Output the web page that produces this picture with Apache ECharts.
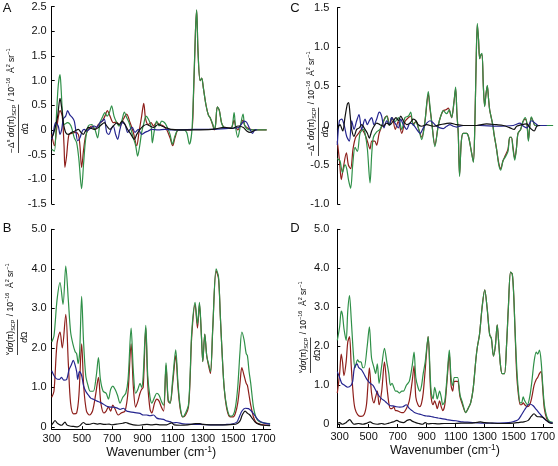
<!DOCTYPE html>
<html>
<head>
<meta charset="utf-8">
<script src="https://cdn.jsdelivr.net/npm/echarts@6/dist/echarts.min.js"></script>
<style>
html,body{margin:0;padding:0;background:#fff;}
#c{width:558px;height:466px;}
</style>
</head>
<body>
<div id="c"></div>
<script>
// ---------------- DATA (wavenumber cm-1, value) ----------------
const xTicks = [300, 500, 700, 900, 1100, 1300, 1500, 1700];
const yTicksA = [-1.5, -1.0, -0.5, 0, 0.5, 1.0, 1.5, 2.0, 2.5];
const yTicksC = [-1.0, -0.5, 0, 0.5, 1.0, 1.5];
const yTicksBD = [0, 1, 2, 3, 4, 5];

const aGreen = [[278,-0.39],[296,-0.43],[311,0.35],[322,0.9],[334,1.12],[342,0.8],[349,0.42],[363,0.11],[385,0.15],[408,0.08],[430,-0.16],[446,-0.26],[461,-0.6],[479,-1.19],[493,-0.66],[506,-0.19],[524,0.08],[547,0.11],[569,0.01],[587,-0.16],[603,0.15],[618,0.25],[636,0.35],[650,0.28],[666,0.35],[681,0.49],[697,0.28],[715,0.15],[731,0.08],[749,0.18],[767,0.36],[782,0.25],[798,0.15],[811,0.01],[827,-0.16],[843,-0.32],[856,-0.53],[870,-0.32],[883,-0.05],[899,0.15],[912,0.28],[928,0.22],[946,0.08],[955,-0.26],[968,-0.02],[984,0.18],[1000,0.08],[1018,0.18],[1036,0.15],[1051,0.08],[1074,-0.09],[1090,-0.29],[1107,-0.12],[1130,0.0],[1163,0.0],[1186,-0.05],[1204,-0.29],[1220,-0.05],[1231,0.69],[1245,2.0],[1253,2.43],[1262,1.6],[1276,1.0],[1287,1.05],[1298,0.85],[1316,0.5],[1332,0.3],[1343,0.25],[1361,0.12],[1372,0.02],[1380,0.1],[1392,0.47],[1405,0.4],[1420,0.15],[1435,0.05],[1450,0.03],[1470,0.03],[1490,0.05],[1505,0.35],[1515,0.05],[1530,-0.15],[1545,0.05],[1565,0.32],[1575,0.1],[1590,0.03],[1610,0.0],[1640,0.0],[1724,0.0]];
const aRed = [[278,-0.09],[296,-0.32],[311,0.01],[322,0.25],[334,0.39],[349,0.28],[361,-0.32],[367,-0.76],[378,-0.53],[394,-0.09],[412,-0.07],[435,-0.05],[457,-0.09],[468,-0.32],[479,-0.76],[493,-0.39],[506,-0.12],[524,0.01],[547,0.08],[569,0.01],[592,0.11],[618,0.18],[636,0.28],[652,0.39],[670,0.28],[692,0.15],[715,0.16],[737,0.08],[760,0.22],[782,0.32],[805,0.15],[827,-0.05],[850,-0.32],[865,-0.05],[883,0.28],[897,0.54],[910,0.22],[928,0.11],[946,0.15],[962,0.08],[984,0.15],[1007,0.11],[1029,0.08],[1051,0.01],[1074,-0.16],[1092,-0.32],[1107,-0.16],[1130,0.0],[1163,0.0],[1200,0.0],[1220,0.0],[1231,0.6],[1245,2.0],[1253,2.42],[1262,1.6],[1276,1.0],[1287,1.05],[1298,0.85],[1316,0.5],[1332,0.3],[1343,0.25],[1361,0.1],[1372,0.0],[1380,0.1],[1392,0.47],[1405,0.4],[1420,0.15],[1435,0.06],[1450,0.04],[1470,0.04],[1490,0.06],[1505,0.2],[1515,0.08],[1530,0.0],[1545,0.08],[1565,0.2],[1575,0.1],[1590,0.05],[1610,0.02],[1640,0.0],[1724,0.0]];
const aBlue = [[278,-0.19],[289,-0.05],[304,0.15],[322,0.08],[334,-0.09],[345,0.01],[356,0.22],[372,0.28],[385,0.39],[401,0.3],[417,0.25],[430,0.18],[439,0.01],[453,-0.22],[468,-0.16],[484,-0.02],[497,0.01],[513,-0.02],[529,0.01],[547,0.05],[565,0.08],[580,0.05],[603,0.15],[618,0.18],[632,0.22],[648,-0.05],[663,-0.09],[677,0.01],[692,0.08],[708,-0.09],[722,-0.19],[737,0.01],[753,0.15],[771,0.11],[789,-0.05],[805,0.01],[820,0.05],[838,-0.05],[861,0.01],[883,-0.09],[906,-0.05],[928,-0.02],[950,0.01],[995,0.0],[1040,0.01],[1085,0.0],[1130,0.0],[1242,0.01],[1354,0.01],[1466,0.03],[1534,0.05],[1574,0.18],[1590,0.15],[1612,0.01],[1628,-0.07],[1646,0.0],[1660,0.0]];
const aBlack = [[278,-0.16],[289,-0.09],[304,0.08],[318,0.28],[334,0.64],[345,0.45],[356,0.15],[372,-0.05],[390,-0.09],[412,-0.05],[435,-0.02],[457,0.01],[475,-0.05],[491,-0.09],[506,-0.02],[524,0.05],[547,0.03],[569,0.01],[592,0.05],[614,0.11],[632,0.15],[648,0.08],[670,0.01],[692,0.08],[715,0.14],[731,0.11],[753,0.18],[771,0.11],[789,0.01],[811,-0.09],[834,-0.19],[850,-0.09],[872,0.01],[894,0.08],[917,0.11],[939,0.08],[962,0.05],[995,0.11],[1018,0.08],[1040,0.05],[1063,0.03],[1085,0.01],[1130,0.0],[1242,0.0],[1354,0.01],[1444,0.05],[1489,0.03],[1534,0.08],[1567,0.05],[1590,-0.02],[1612,-0.05],[1635,-0.02],[1650,0.0]];

const bGreen = [[300,2.15],[315,2.3],[335,3.2],[355,3.65],[375,3.1],[393,4.07],[410,3.2],[425,2.4],[440,2.1],[455,1.9],[465,1.85],[475,1.6],[485,1.9],[498,3.3],[510,2.2],[525,1.3],[540,1.05],[555,0.9],[575,0.9],[595,1.3],[609,1.75],[622,1.2],[640,0.9],[660,0.85],[675,0.7],[690,0.95],[704,1.03],[719,0.95],[735,0.8],[752,0.6],[770,0.75],[790,0.85],[805,1.2],[825,2.5],[840,1.4],[855,0.85],[870,0.95],[884,1.1],[895,1.0],[905,1.3],[922,2.57],[935,1.3],[950,0.75],[962,0.6],[980,0.75],[995,0.85],[1010,0.8],[1025,0.65],[1040,0.55],[1056,1.62],[1070,0.7],[1083,0.6],[1100,1.2],[1120,1.95],[1135,1.1],[1150,0.5],[1167,0.25],[1185,0.35],[1204,0.55],[1215,1.3],[1226,2.4],[1248,3.15],[1264,2.6],[1277,3.15],[1290,2.3],[1299,1.65],[1312,2.35],[1325,1.8],[1340,1.55],[1350,1.4],[1365,2.5],[1387,4.0],[1403,3.8],[1415,2.8],[1425,2.0],[1440,1.0],[1458,0.5],[1480,0.27],[1500,0.3],[1515,0.5],[1530,1.0],[1545,1.9],[1557,2.4],[1572,2.2],[1586,1.85],[1594,1.8],[1605,1.4],[1616,1.1],[1634,0.5],[1650,0.25],[1667,0.15],[1700,0.1],[1744,0.08]];
const bRed = [[300,0.75],[315,0.9],[335,2.1],[355,2.4],[370,2.0],[393,2.85],[410,1.6],[425,0.6],[445,0.33],[465,0.35],[480,0.8],[498,2.1],[512,1.0],[530,0.4],[550,0.3],[570,0.4],[590,0.8],[609,1.25],[625,0.6],[645,0.35],[660,0.4],[675,0.5],[690,0.4],[704,0.55],[719,0.45],[740,0.3],[760,0.35],[785,0.4],[805,0.9],[825,2.1],[840,1.0],[855,0.5],[870,0.65],[884,0.85],[895,0.95],[905,1.0],[922,2.5],[935,1.1],[950,0.45],[962,0.35],[980,0.6],[995,0.7],[1010,0.65],[1025,0.5],[1040,0.4],[1056,1.55],[1070,0.65],[1083,0.6],[1100,1.1],[1120,1.8],[1135,1.0],[1150,0.45],[1167,0.25],[1185,0.3],[1204,0.5],[1215,1.2],[1226,2.3],[1248,3.1],[1264,2.5],[1277,3.1],[1290,2.3],[1299,1.65],[1312,2.35],[1325,1.8],[1340,1.5],[1350,1.35],[1365,2.5],[1387,3.95],[1403,3.75],[1415,2.8],[1425,2.0],[1440,1.0],[1458,0.45],[1480,0.25],[1500,0.25],[1515,0.35],[1530,0.6],[1545,1.1],[1557,1.5],[1572,1.3],[1586,1.1],[1594,1.05],[1605,0.8],[1616,0.55],[1634,0.25],[1650,0.12],[1667,0.08],[1700,0.05],[1744,0.04]];
const bBlue = [[300,1.42],[315,1.3],[330,1.22],[350,1.2],[365,1.25],[380,1.18],[399,1.2],[415,1.45],[428,1.55],[443,1.68],[452,1.6],[465,1.4],[472,1.2],[483,1.4],[498,1.3],[510,1.05],[525,0.9],[543,0.8],[560,0.72],[576,0.7],[600,0.65],[620,0.62],[640,0.58],[664,0.52],[690,0.5],[708,0.5],[730,0.48],[752,0.44],[774,0.47],[795,0.4],[818,0.38],[850,0.36],[884,0.34],[905,0.3],[928,0.3],[950,0.28],[973,0.3],[995,0.22],[1017,0.2],[1039,0.19],[1060,0.15],[1083,0.13],[1105,0.1],[1127,0.11],[1160,0.08],[1193,0.07],[1240,0.06],[1281,0.06],[1350,0.05],[1420,0.05],[1458,0.06],[1490,0.07],[1524,0.12],[1540,0.25],[1558,0.4],[1579,0.47],[1601,0.46],[1620,0.4],[1640,0.3],[1667,0.17],[1700,0.1],[1744,0.07]];
const bBlack = [[300,0.05],[310,0.1],[322,0.16],[335,0.1],[350,0.06],[365,0.04],[388,0.12],[400,0.05],[420,0.02],[445,0.01],[470,0.0],[490,0.04],[509,0.11],[530,0.06],[555,0.07],[575,0.09],[600,0.07],[620,0.08],[650,0.06],[680,0.07],[700,0.05],[730,0.07],[770,0.09],[790,0.11],[810,0.08],[840,0.05],[870,0.04],[900,0.05],[930,0.06],[960,0.05],[990,0.06],[1020,0.05],[1060,0.05],[1093,0.1],[1110,0.05],[1150,0.04],[1200,0.05],[1250,0.08],[1281,0.08],[1300,0.06],[1350,0.05],[1400,0.05],[1458,0.05],[1500,0.06],[1524,0.08],[1545,0.15],[1560,0.3],[1579,0.4],[1595,0.34],[1610,0.3],[1625,0.22],[1645,0.12],[1667,0.07],[1700,0.04],[1744,0.03]];

const cGreen = [[285,-0.42],[303,-0.45],[320,-0.6],[337,-0.5],[349,-0.55],[362,-0.7],[376,-0.8],[390,-0.5],[406,-0.28],[422,-0.33],[440,-0.1],[462,-0.05],[474,-0.1],[490,-0.3],[508,-0.73],[520,-0.35],[531,-0.15],[553,-0.08],[576,-0.05],[599,0.05],[621,0.12],[640,0.0],[655,0.1],[678,0.05],[701,0.1],[724,-0.05],[746,0.1],[770,0.12],[785,0.17],[803,0.0],[821,0.05],[840,-0.05],[860,-0.18],[882,0.05],[905,0.43],[916,0.25],[928,0.05],[950,-0.27],[973,0.0],[990,0.12],[1007,0.19],[1030,0.15],[1048,0.2],[1064,0.1],[1080,0.3],[1091,0.49],[1100,0.15],[1109,-0.1],[1118,-0.65],[1130,-0.2],[1143,-0.1],[1166,-0.1],[1180,-0.15],[1200,-0.35],[1212,-0.47],[1222,0.0],[1232,0.9],[1239,1.3],[1247,1.1],[1255,0.85],[1263,0.9],[1271,0.92],[1280,0.5],[1289,0.24],[1298,0.4],[1307,0.51],[1315,0.35],[1323,0.2],[1334,0.1],[1345,0.0],[1352,-0.1],[1370,-0.3],[1385,-0.5],[1398,-0.57],[1414,-0.45],[1430,-0.4],[1448,-0.33],[1460,-0.15],[1471,-0.15],[1482,-0.3],[1494,-0.44],[1505,-0.3],[1516,-0.1],[1534,-0.05],[1550,0.05],[1566,0.1],[1577,0.02],[1587,-0.2],[1597,0.0],[1607,0.11],[1620,0.05],[1632,0.0],[1675,0.0],[1755,0.0]];
const cRed = [[285,-0.2],[300,-0.45],[312,-0.69],[325,-0.55],[347,-0.35],[360,-0.5],[376,-0.55],[392,-0.3],[410,-0.15],[430,-0.1],[450,-0.05],[470,-0.1],[490,-0.2],[508,-0.3],[520,-0.2],[540,-0.2],[553,-0.25],[570,-0.1],[590,0.0],[610,0.1],[625,0.12],[640,0.0],[660,0.1],[680,-0.05],[700,0.05],[724,-0.1],[746,0.05],[770,0.1],[785,0.12],[803,0.02],[821,0.05],[840,-0.05],[860,-0.15],[882,0.05],[905,0.4],[916,0.22],[928,0.05],[950,-0.25],[973,0.0],[990,0.12],[1007,0.19],[1025,0.2],[1041,0.22],[1055,0.15],[1064,0.1],[1080,0.3],[1091,0.47],[1100,0.15],[1109,-0.1],[1118,-0.63],[1130,-0.2],[1143,-0.1],[1166,-0.1],[1180,-0.15],[1200,-0.35],[1212,-0.46],[1222,0.0],[1232,0.9],[1239,1.28],[1247,1.1],[1255,0.85],[1263,0.9],[1271,0.9],[1280,0.5],[1289,0.25],[1298,0.4],[1307,0.5],[1315,0.35],[1323,0.2],[1334,0.1],[1345,0.0],[1352,-0.1],[1370,-0.3],[1385,-0.48],[1398,-0.55],[1414,-0.45],[1430,-0.38],[1448,-0.3],[1460,-0.15],[1471,-0.15],[1482,-0.28],[1494,-0.42],[1505,-0.3],[1516,-0.1],[1534,-0.05],[1550,0.05],[1566,0.08],[1577,0.02],[1587,-0.18],[1597,0.0],[1607,0.1],[1620,0.05],[1632,0.0],[1675,0.0],[1755,0.0]];
const cBlue = [[285,-0.25],[299,0.06],[315,0.08],[331,0.01],[349,-0.14],[367,-0.2],[383,0.06],[399,-0.05],[417,0.06],[433,0.14],[451,-0.05],[474,0.08],[490,0.01],[503,0.06],[519,0.1],[535,0.01],[553,0.08],[571,0.17],[587,0.12],[603,-0.03],[621,0.06],[640,0.01],[655,0.1],[678,0.03],[701,-0.03],[717,0.08],[735,0.01],[758,-0.05],[780,0.03],[803,0.01],[826,-0.05],[849,-0.1],[871,-0.03],[894,0.03],[917,0.06],[940,0.03],[962,-0.01],[985,-0.03],[1007,-0.04],[1030,-0.01],[1053,0.01],[1075,-0.01],[1098,-0.02],[1143,0.0],[1257,0.0],[1371,-0.01],[1484,0.0],[1530,0.03],[1553,-0.01],[1575,-0.03],[1609,0.06],[1632,0.03],[1655,0.0],[1712,0.0]];
const cBlack = [[285,-0.05],[303,0.01],[322,-0.07],[337,0.1],[353,0.27],[362,0.29],[372,0.14],[383,-0.05],[399,-0.14],[417,-0.05],[435,-0.03],[451,0.01],[474,-0.05],[490,-0.1],[503,-0.16],[519,-0.07],[535,-0.01],[553,0.03],[576,0.01],[599,-0.01],[621,0.03],[644,0.01],[667,0.06],[685,0.1],[701,0.06],[717,0.12],[735,0.06],[758,0.01],[780,0.03],[803,0.08],[821,0.06],[837,0.01],[860,-0.01],[894,0.01],[940,-0.01],[985,0.01],[1053,0.03],[1098,0.01],[1143,0.0],[1234,0.0],[1302,0.02],[1371,0.01],[1416,0.0],[1462,-0.03],[1489,-0.05],[1507,-0.01],[1541,0.01],[1575,0.02],[1598,-0.03],[1626,-0.07],[1644,-0.01],[1667,0.0]];

const dGreen = [[284,2.15],[300,2.5],[311,2.9],[320,2.8],[330,2.45],[345,2.15],[356,2.9],[368,3.3],[380,2.7],[395,1.8],[406,1.45],[424,1.65],[435,1.6],[447,1.6],[460,1.45],[469,1.45],[490,2.0],[505,2.5],[520,1.7],[537,1.45],[548,1.3],[560,1.55],[572,1.05],[590,1.5],[609,1.95],[625,1.6],[639,1.3],[650,1.0],[661,1.05],[673,0.95],[685,0.85],[695,0.85],[712,0.8],[729,0.85],[740,0.85],[760,1.0],[780,1.1],[800,1.5],[813,1.85],[825,1.2],[840,0.95],[853,0.85],[865,1.0],[876,1.3],[890,1.6],[910,2.25],[925,1.2],[932,0.8],[944,0.65],[955,0.95],[965,0.8],[973,0.65],[989,0.85],[1000,0.7],[1011,0.5],[1025,0.6],[1040,1.2],[1056,1.9],[1068,1.2],[1079,1.0],[1090,1.2],[1097,1.2],[1113,1.2],[1130,0.75],[1147,0.55],[1169,0.3],[1185,0.4],[1203,0.55],[1220,0.9],[1240,1.7],[1250,2.0],[1264,2.3],[1282,3.0],[1300,3.45],[1316,3.0],[1334,2.3],[1346,2.2],[1360,1.75],[1373,2.0],[1386,2.55],[1398,2.0],[1409,1.5],[1420,1.3],[1436,1.3],[1450,2.0],[1463,3.0],[1478,3.9],[1490,3.85],[1500,3.3],[1508,2.5],[1520,1.5],[1531,0.9],[1545,0.55],[1554,0.55],[1565,0.7],[1576,0.6],[1594,0.5],[1610,0.7],[1625,1.1],[1640,1.6],[1655,1.85],[1665,1.8],[1677,1.9],[1689,1.6],[1700,1.0],[1711,0.5],[1727,0.2],[1745,0.08],[1768,0.05]];
const dRed = [[284,0.8],[300,1.3],[311,1.8],[320,1.6],[330,1.25],[345,1.6],[356,2.1],[368,2.25],[380,1.5],[395,0.7],[406,0.4],[424,0.25],[447,0.2],[469,0.25],[485,0.5],[495,1.0],[505,1.45],[520,0.8],[537,0.55],[548,0.7],[560,0.85],[572,0.5],[590,0.85],[609,1.6],[625,1.0],[639,0.55],[650,0.4],[661,0.4],[673,0.45],[685,0.35],[695,0.35],[712,0.32],[729,0.3],[740,0.3],[760,0.4],[780,0.6],[800,1.1],[813,1.5],[825,0.7],[840,0.5],[853,0.45],[865,0.55],[876,0.8],[890,1.4],[910,2.25],[925,1.0],[932,0.65],[944,0.5],[955,0.6],[965,0.5],[973,0.4],[989,0.6],[1000,0.45],[1011,0.35],[1025,0.5],[1040,1.1],[1056,1.8],[1068,1.0],[1079,0.85],[1090,1.1],[1097,1.1],[1113,1.1],[1130,0.7],[1147,0.5],[1169,0.3],[1185,0.4],[1203,0.55],[1220,0.9],[1240,1.7],[1250,2.0],[1264,2.3],[1282,3.0],[1300,3.45],[1316,3.0],[1334,2.3],[1346,2.2],[1360,1.75],[1373,2.0],[1386,2.55],[1398,2.0],[1409,1.5],[1420,1.3],[1436,1.3],[1450,2.0],[1463,3.0],[1478,3.9],[1490,3.85],[1500,3.3],[1508,2.5],[1520,1.3],[1531,0.8],[1545,0.5],[1554,0.5],[1565,0.55],[1576,0.5],[1594,0.45],[1610,0.5],[1625,0.7],[1640,1.0],[1655,1.15],[1665,1.2],[1677,1.3],[1689,1.35],[1700,0.9],[1711,0.4],[1727,0.15],[1745,0.06],[1768,0.04]];
const dBlue = [[284,1.35],[300,1.2],[315,1.05],[334,1.0],[356,0.95],[379,1.0],[390,1.1],[402,1.45],[420,1.55],[432,1.45],[450,1.4],[466,1.3],[488,1.15],[511,1.05],[530,1.0],[545,0.9],[567,0.75],[590,0.65],[610,0.6],[624,0.55],[646,0.48],[669,0.47],[691,0.45],[714,0.44],[737,0.45],[759,0.5],[782,0.4],[800,0.35],[816,0.3],[840,0.27],[861,0.25],[885,0.22],[906,0.21],[930,0.2],[951,0.18],[980,0.16],[1011,0.14],[1040,0.12],[1070,0.1],[1102,0.09],[1147,0.06],[1200,0.05],[1237,0.04],[1300,0.03],[1350,0.03],[1400,0.03],[1463,0.04],[1500,0.07],[1531,0.12],[1555,0.25],[1576,0.38],[1595,0.48],[1610,0.52],[1632,0.48],[1655,0.38],[1677,0.28],[1700,0.18],[1723,0.1],[1745,0.05],[1768,0.03]];
const dBlack = [[284,0.02],[300,0.04],[320,0.0],[340,0.03],[355,0.08],[370,0.12],[385,0.05],[400,0.0],[430,0.02],[460,0.0],[490,0.03],[510,0.06],[530,0.02],[560,0.0],[590,0.02],[610,0.0],[640,0.03],[670,0.06],[695,0.1],[715,0.06],[740,0.04],[765,0.1],[785,0.12],[800,0.08],[820,0.05],[845,0.02],[870,0.0],[890,0.04],[910,0.01],[940,0.02],[980,0.01],[1020,0.02],[1080,0.02],[1140,0.03],[1200,0.03],[1250,0.05],[1270,0.06],[1300,0.04],[1350,0.03],[1400,0.02],[1450,0.02],[1500,0.03],[1540,0.05],[1570,0.06],[1600,0.1],[1620,0.2],[1640,0.27],[1660,0.2],[1685,0.19],[1705,0.17],[1725,0.1],[1745,0.04],[1768,0.02]];

// ---------------- STYLE / LAYOUT ----------------
const FONT = '"Liberation Sans", Arial, Helvetica, sans-serif';
const COL = {green:'#2f9048', red:'#8e1f1b', blue:'#25258f', black:'#111111'};

const panels = [
  {grid:{left:51.7, top:6.5, width:219, height:197.5}, x:[278,1751], y:[-1.5,2.5], yt:yTicksA, xShow:false,
   data:[aRed,aGreen,aBlue,aBlack], lm:5},
  {grid:{left:51.7, top:229.3, width:219, height:199.9}, x:[300,1748], y:[-0.06,5], yt:yTicksBD, xShow:true,
   data:[bRed,bGreen,bBlue,bBlack], lm:5},
  {grid:{left:337.3, top:7.7, width:218.7, height:196.3}, x:[285,1775], y:[-1.0,1.5], yt:yTicksC, xShow:false,
   data:[cRed,cGreen,cBlue,cBlack], lm:8},
  {grid:{left:337.3, top:229.3, width:219, height:197.7}, x:[284,1768], y:[-0.07,5], yt:yTicksBD, xShow:true,
   data:[dRed,dGreen,dBlue,dBlack], lm:8}
];
const colOrder = [COL.red, COL.green, COL.blue, COL.black];

const fmt = v => (Math.abs(v) < 1e-9 ? '0' : v.toFixed(1));

const grids = [], xAxes = [], yAxes = [], series = [];
panels.forEach((p, i) => {
  grids.push(Object.assign({containLabel:false}, p.grid));
  xAxes.push({
    gridIndex:i, type:'value', min:p.x[0], max:p.x[1], show:p.xShow,
    splitLine:{show:false},
    axisLine:{show:true, onZero:false, lineStyle:{color:'#000', width:1}},
    axisTick:{show:true, inside:true, length:3, customValues:xTicks, lineStyle:{color:'#000'}},
    axisLabel:{customValues:xTicks, fontSize:11, color:'#111', fontFamily:FONT, margin:4, formatter:v=>String(v)},
    name: p.xShow ? '{t|Wavenumber (cm}{s|-1}{t|)}' : '',
    nameLocation:'middle', nameGap:13,
    nameTextStyle:{rich:{t:{fontSize:12.5, fontFamily:FONT, color:'#111', lineHeight:15, verticalAlign:'middle'},
                          s:{fontSize:8.5, fontFamily:FONT, color:'#111', lineHeight:8, verticalAlign:'top'}}}
  });
  yAxes.push({
    gridIndex:i, type:'value', min:p.y[0], max:p.y[1],
    splitLine:{show:false},
    axisLine:{show:true, onZero:false, lineStyle:{color:'#000', width:1}},
    axisTick:{show:true, inside:true, length:3, customValues:p.yt, lineStyle:{color:'#000'}},
    axisLabel:{customValues:p.yt, fontSize:11, color:'#111', fontFamily:FONT, margin:p.lm, formatter:fmt}
  });
  p.data.forEach((d, k) => {
    series.push({
      type:'line', xAxisIndex:i, yAxisIndex:i, data:d, showSymbol:false, symbol:'none',
      smooth:0.3, silent:true, animation:false,
      lineStyle:{color:colOrder[k], width:1.2}
    });
  });
});

// ---------------- Y-AXIS TITLES (rotated fractions) ----------------
const ctx = document.createElement('canvas').getContext('2d');
const F = 8.5, f = 5.5;
function w(segs){
  let s = 0;
  segs.forEach(g => { const size = (g[1]==='sup'||g[1]==='sub') ? f : F;
    ctx.font = (g[1]==='it' ? 'italic ' : '') + size + 'px ' + FONT; s += ctx.measureText(g[0]).width; });
  return s;
}
function rt(segs){ return segs.map(g => '{' + g[1] + '|' + g[0] + '}').join(''); }
const rich = {
  t:{fontSize:F, fontFamily:FONT, color:'#111', lineHeight:12, verticalAlign:'middle'},
  it:{fontSize:F, fontFamily:FONT, fontStyle:'italic', color:'#111', lineHeight:12, verticalAlign:'middle'},
  sup:{fontSize:f, fontFamily:FONT, color:'#111', lineHeight:6, verticalAlign:'top'},
  sub:{fontSize:f, fontFamily:FONT, color:'#111', lineHeight:6, verticalAlign:'bottom'}
};
const numDelta = [['\u2212\u0394','t'],['s','sup'],[' ','t'],['d\u03c3','it'],['(\u03c0)','t'],['SCP','sub']];
const numV = [['v','sup'],['d\u03c3','it'],['(\u03c0)','t'],['SCP','sub']];
const rest = [[' / 10','t'],['\u221216','sup'],['  \u00c5','t'],['2','sup'],[' sr','t'],['\u22121','sup']];
const den = [['d','it'],['\u03a9','t']];

function title(bx, by, num){
  const nw = w(num);
  return {
    type:'group', x:bx, y:by, rotation:Math.PI/2, silent:true,
    children:[
      {type:'text', x:0, y:-1, style:{text:rt(num), rich:rich, align:'left', verticalAlign:'bottom'}},
      {type:'line', shape:{x1:0, y1:0, x2:nw, y2:0}, style:{stroke:'#111', lineWidth:0.8}},
      {type:'text', x:nw/2, y:1, style:{text:rt(den), rich:rich, align:'center', verticalAlign:'top'}},
      {type:'text', x:nw+1, y:-1, style:{text:rt(rest), rich:rich, align:'left', verticalAlign:'bottom'}}
    ]
  };
}
const letter = (t, x, y) => ({type:'text', x:x, y:y, silent:true,
  style:{text:t, fontSize:13, fontFamily:FONT, fill:'#111', align:'center', verticalAlign:'middle'}});

const graphics = [
  letter('A', 7, 8), letter('B', 7, 228.5), letter('C', 295, 8.5), letter('D', 295, 228.5),
  title(18.5, 153, numDelta), title(318.5, 156, numDelta),
  title(17.5, 355, numV), title(310.5, 373, numV)
];

const chart = echarts.init(document.getElementById('c'), null, {renderer:'canvas'});
chart.setOption({
  animation:false, backgroundColor:'#fff',
  grid:grids, xAxis:xAxes, yAxis:yAxes, series:series, graphic:graphics
});
</script>
</body>
</html>
